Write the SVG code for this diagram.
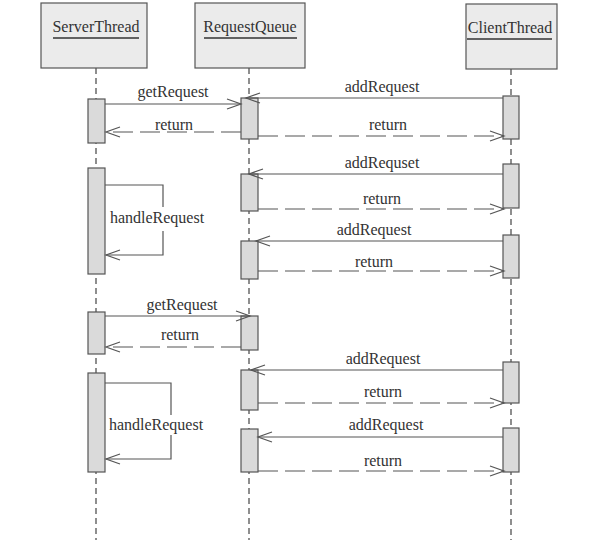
<svg xmlns="http://www.w3.org/2000/svg" width="603" height="540" viewBox="0 0 603 540">
<style>
.box{fill:#ebebeb;stroke:#555;stroke-width:1.2}
.act{fill:#dadada;stroke:#555;stroke-width:1.2}
.life{stroke:#444;stroke-width:1.2;stroke-dasharray:6 4;fill:none}
.msg{stroke:#555;stroke-width:1.2;fill:none}
.ret{stroke:#555;stroke-width:1.2;fill:none;stroke-dasharray:20 7}
text{font-family:"Liberation Serif","Times New Roman",serif;font-size:16px;fill:#333;text-anchor:middle}
.ul{stroke:#333;stroke-width:1.5}
</style>
<defs>
<marker id="open" markerUnits="userSpaceOnUse" markerWidth="20" markerHeight="20" refX="0" refY="0" orient="auto" overflow="visible">
<path d="M-14,-5 L0,0 L-14,5" fill="none" stroke="#555" stroke-width="1.2"/>
</marker>
</defs>
<g id="lifelines">
<line class="life" x1="96" y1="68" x2="96" y2="540"/>
<line class="life" x1="249" y1="68" x2="249" y2="540"/>
<line class="life" x1="511" y1="69" x2="511" y2="540"/>
</g>
<g id="ServerThread">
<rect class="box" x="41" y="3" width="106" height="65"/>
<text x="96" y="32">ServerThread</text>
<line class="ul" x1="53" y1="38" x2="139" y2="38"/>
</g>
<g id="RequestQueue">
<rect class="box" x="195" y="3" width="110" height="65"/>
<text x="250" y="32">RequestQueue</text>
<line class="ul" x1="204" y1="38" x2="297" y2="38"/>
</g>
<g id="ClientThread">
<rect class="box" x="466" y="4" width="91" height="65"/>
<text x="510" y="33">ClientThread</text>
<line class="ul" x1="467" y1="39" x2="552" y2="39"/>
</g>
<g id="activations">
<rect class="act" x="88" y="99" width="17" height="44"/>
<rect class="act" x="241" y="98" width="17" height="41"/>
<rect class="act" x="503" y="96" width="16" height="43"/>
<rect class="act" x="88" y="168" width="17" height="106"/>
<rect class="act" x="241" y="174" width="17" height="37"/>
<rect class="act" x="503" y="164" width="16" height="44"/>
<rect class="act" x="241" y="241" width="17" height="38"/>
<rect class="act" x="503" y="235" width="16" height="43"/>
<rect class="act" x="88" y="312" width="17" height="42"/>
<rect class="act" x="241" y="316" width="17" height="34"/>
<rect class="act" x="88" y="373" width="17" height="99"/>
<rect class="act" x="241" y="370" width="17" height="40"/>
<rect class="act" x="503" y="362" width="16" height="41"/>
<rect class="act" x="241" y="429" width="17" height="43"/>
<rect class="act" x="503" y="428" width="16" height="44"/>
</g>
<g id="connectors">
<line class="msg" x1="105" y1="104" x2="241" y2="104" marker-end="url(#open)"/>
<line class="ret" x1="241" y1="132" x2="106" y2="132" marker-end="url(#open)"/>
<line class="msg" x1="503" y1="98" x2="246" y2="98" marker-end="url(#open)"/>
<line class="ret" x1="258" y1="136" x2="504" y2="136" marker-end="url(#open)"/>
<path class="msg" d="M105,185 H163 V207 M163,231 V255 H106" marker-end="url(#open)"/>
<line class="msg" x1="503" y1="174" x2="249" y2="174" marker-end="url(#open)"/>
<line class="ret" x1="258" y1="209" x2="504" y2="209" marker-end="url(#open)"/>
<line class="msg" x1="503" y1="241" x2="256" y2="241" marker-end="url(#open)"/>
<line class="ret" x1="258" y1="271" x2="504" y2="271" marker-end="url(#open)"/>
<line class="msg" x1="105" y1="316" x2="250" y2="316" marker-end="url(#open)"/>
<line class="ret" x1="241" y1="347" x2="106" y2="347" marker-end="url(#open)"/>
<path class="msg" d="M105,383 H171 V415 M171,435 V459 H106" marker-end="url(#open)"/>
<line class="msg" x1="503" y1="370" x2="251" y2="370" marker-end="url(#open)"/>
<line class="ret" x1="258" y1="403" x2="504" y2="403" marker-end="url(#open)"/>
<line class="msg" x1="503" y1="437" x2="258" y2="437" marker-end="url(#open)"/>
<line class="ret" x1="258" y1="471" x2="504" y2="471" marker-end="url(#open)"/>
</g>
<g id="labels">
<text x="173" y="97">getRequest</text>
<text x="174" y="130">return</text>
<text x="382" y="92">addRequest</text>
<text x="388" y="130">return</text>
<text x="157" y="223">handleRequest</text>
<text x="382" y="168">addRequset</text>
<text x="382" y="204">return</text>
<text x="374" y="235">addRequest</text>
<text x="374" y="267">return</text>
<text x="182" y="310">getRequest</text>
<text x="180" y="340">return</text>
<text x="156" y="430">handleRequest</text>
<text x="383" y="364">addRequest</text>
<text x="383" y="397">return</text>
<text x="386" y="430">addRequest</text>
<text x="383" y="466">return</text>
</g>
</svg>
